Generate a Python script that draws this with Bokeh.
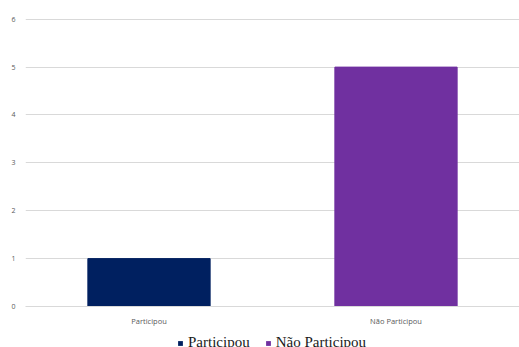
from bokeh.plotting import figure
from bokeh.layouts import column
from bokeh.models import Range1d, FactorRange, Legend, LegendItem
from bokeh.embed import file_html
from bokeh.resources import INLINE

categories = ["Participou", "Não Participou"]
values = [1, 5]
colors = ["#002060", "#7030A0"]
y_ticks = [0, 1, 2, 3, 4, 5, 6]

p = figure(x_range=FactorRange(*categories, range_padding=0), y_range=Range1d(0, 6.12),
           width=519, height=328, output_backend="svg", toolbar_location=None,
           min_border_left=25, min_border_right=0, min_border_top=13, min_border_bottom=21)
p.outline_line_color = None

p.vbar(x=[categories[0]], top=[values[0]], width=0.495, color=colors[0])
p.vbar(x=[categories[1]], top=[values[1]], width=0.495, color=colors[1])

p.yaxis.ticker = y_ticks
p.yaxis.axis_line_color = None
p.yaxis.major_tick_line_color = None
p.yaxis.minor_tick_line_color = None
p.yaxis.major_label_text_font = "Open Sans"
p.yaxis.major_label_text_font_size = "7px"
p.yaxis.major_label_text_color = "#595959"
p.yaxis.major_label_standoff = 4

p.xaxis.axis_line_color = "#d9d9d9"
p.xaxis.major_tick_line_color = None
p.xaxis.minor_tick_line_color = None
p.xaxis.major_label_text_font = "Open Sans"
p.xaxis.major_label_text_font_size = "7.5px"
p.xaxis.major_label_text_color = "#595959"
p.xaxis.major_label_standoff = 3

p.xgrid.grid_line_color = None
p.ygrid.grid_line_color = "#d9d9d9"

# legend strip below the chart (its bars lie far outside its visible range)
lg = figure(x_range=FactorRange(*categories), y_range=Range1d(100, 101), width=519, height=19,
            output_backend="svg", toolbar_location=None, x_axis_type=None, y_axis_type=None,
            min_border_left=0, min_border_right=0, min_border_top=0, min_border_bottom=0)
lg.outline_line_color = None
lg.xgrid.grid_line_color = None
lg.ygrid.grid_line_color = None
l1 = lg.vbar(x=[categories[0]], top=[values[0]], width=0.5, fill_color=colors[0], line_color=None)
l2 = lg.vbar(x=[categories[1]], top=[values[1]], width=0.5, fill_color=colors[1], line_color=None)

legend = Legend(items=[LegendItem(label=categories[0], renderers=[l1]),
                       LegendItem(label=categories[1], renderers=[l2])],
                orientation="horizontal", location=(152, -4),
                glyph_width=6, glyph_height=6, label_text_font="Liberation Serif",
                label_text_font_size="15px", label_text_color="#1a1a1a",
                spacing=15, padding=1, margin=0, border_line_color=None,
                background_fill_alpha=0, label_standoff=5, label_height=16)
lg.add_layout(legend, "center")

layout = column(p, lg, spacing=0)
open("out.html", "w").write(file_html(layout, INLINE))
